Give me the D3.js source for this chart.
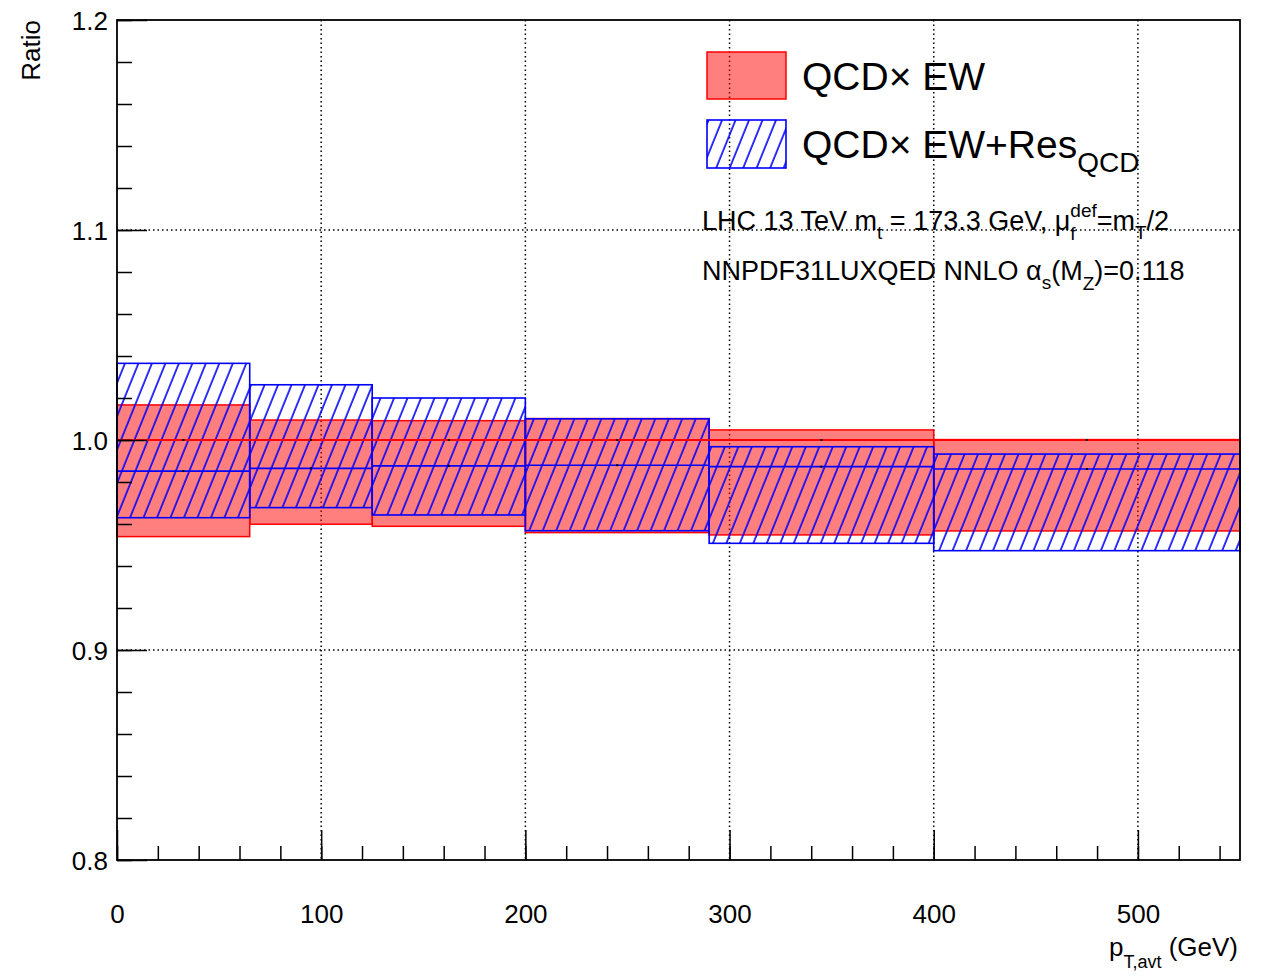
<!DOCTYPE html>
<html>
<head>
<meta charset="utf-8">
<script src="https://cdn.jsdelivr.net/npm/d3@7"></script>
<style>
  html, body { margin: 0; padding: 0; background: #fff; }
  svg { display: block; font-family: "Liberation Sans", Arial, Helvetica, sans-serif; }
  text { white-space: pre; }
</style>
</head>
<body>
<div id="chart"></div>
<script>
// Bin-Grenzen in GeV
const binEdges = [0, 65, 125, 200, 290, 400, 550];

// QCD x EW (rotes Band)
const ewCentral = [1.0, 1.0, 1.0, 1.0, 1.0, 1.0];
const ewUp      = [1.0167, 1.0095, 1.0092, 1.0102, 1.0048, 1.0002];
const ewDown    = [0.9540, 0.9599, 0.9589, 0.9559, 0.9548, 0.9567];

// QCD x EW + Res_QCD (blaues, schraffiertes Band)
const resCentral = [0.9852, 0.9865, 0.9877, 0.9880, 0.9873, 0.9862];
const resUp      = [1.0365, 1.0263, 1.0200, 1.0101, 0.9968, 0.9933];
const resDown    = [0.9630, 0.9678, 0.9643, 0.9568, 0.9508, 0.9473];

// Achsen-Ticks
const xMajorTicks = [0, 100, 200, 300, 400, 500];
const xMinorTicks = d3.range(0, 551, 20);
const yMajorTicks = [0.8, 0.9, 1.0, 1.1, 1.2];
const yMinorTicks = d3.range(0.8, 1.2001, 0.02);
const xGrid = [100, 200, 300, 400, 500];
const yGrid = [0.9, 1.0, 1.1];

const W = 1265, H = 976;
const plot = {left: 117, right: 1240, top: 20, bottom: 860};

const svg = d3.select("#chart").append("svg")
    .attr("width", W).attr("height", H);

// Schraffur-Muster
const defs = svg.append("defs");
defs.append("pattern")
    .attr("id", "hatch")
    .attr("patternUnits", "userSpaceOnUse")
    .attr("width", 12.5).attr("height", 20)
    .attr("patternTransform", "rotate(22)")
    .append("line")
    .attr("x1", 2).attr("y1", -5).attr("x2", 2).attr("y2", 25)
    .attr("stroke", "#0000ff").attr("stroke-width", 1.6);

const x = d3.scaleLinear().domain([0, 550]).range([plot.left, plot.right]);
const y = d3.scaleLinear().domain([0.8, 1.2]).range([plot.bottom, plot.top]);

// Gitterlinien
svg.append("g").selectAll("line").data(xGrid).join("line")
    .attr("x1", d => x(d)).attr("x2", d => x(d))
    .attr("y1", plot.top).attr("y2", plot.bottom)
    .attr("stroke", "#000").attr("stroke-width", 1.5)
    .attr("stroke-dasharray", "1.5,3");
svg.append("g").selectAll("line").data(yGrid).join("line")
    .attr("x1", plot.left).attr("x2", plot.right)
    .attr("y1", d => y(d)).attr("y2", d => y(d))
    .attr("stroke", "#000").attr("stroke-width", 1.5)
    .attr("stroke-dasharray", "1.5,3");

const bins = binEdges.slice(0, -1).map((lo, i) => ({
    lo, hi: binEdges[i + 1],
    ewC: ewCentral[i], ewU: ewUp[i], ewD: ewDown[i],
    resC: resCentral[i], resU: resUp[i], resD: resDown[i]
}));

// Rotes Band
svg.append("g").selectAll("rect").data(bins).join("rect")
    .attr("x", d => x(d.lo)).attr("width", d => x(d.hi) - x(d.lo))
    .attr("y", d => y(d.ewU)).attr("height", d => y(d.ewD) - y(d.ewU))
    .attr("fill", "#ff0000").attr("fill-opacity", 0.5)
    .attr("stroke", "#ff0000").attr("stroke-width", 1.5);

// Blaues schraffiertes Band
svg.append("g").selectAll("rect").data(bins).join("rect")
    .attr("x", d => x(d.lo)).attr("width", d => x(d.hi) - x(d.lo))
    .attr("y", d => y(d.resU)).attr("height", d => y(d.resD) - y(d.resU))
    .attr("fill", "url(#hatch)")
    .attr("stroke", "#0000ff").attr("stroke-width", 1.6);

// Zentrale Linien
svg.append("g").selectAll("line").data(bins).join("line")
    .attr("x1", d => x(d.lo)).attr("x2", d => x(d.hi))
    .attr("y1", d => y(d.resC)).attr("y2", d => y(d.resC))
    .attr("stroke", "#0000ff").attr("stroke-width", 1.6);
svg.append("g").selectAll("line").data(bins).join("line")
    .attr("x1", d => x(d.lo)).attr("x2", d => x(d.hi))
    .attr("y1", d => y(d.ewC)).attr("y2", d => y(d.ewC))
    .attr("stroke", "#ff0000").attr("stroke-width", 2);

// kleine Marker in der Bin-Mitte
const markers = bins.flatMap(d => [
    {xv: (d.lo + d.hi) / 2, yv: d.ewC},
    {xv: (d.lo + d.hi) / 2, yv: d.resC}
]);
svg.append("g").selectAll("rect").data(markers).join("rect")
    .attr("x", d => x(d.xv) - 1).attr("y", d => y(d.yv) - 1)
    .attr("width", 2).attr("height", 2).attr("fill", "#000");

// Achsen
const yMajor = svg.append("g")
    .attr("transform", `translate(${plot.left},0)`)
    .call(d3.axisLeft(y).tickValues(yMajorTicks).tickSize(-30).tickPadding(9)
        .tickFormat(d3.format(".1f")));
const yMinor = svg.append("g")
    .attr("transform", `translate(${plot.left},0)`)
    .call(d3.axisLeft(y).tickValues(yMinorTicks).tickSize(-15).tickFormat(""));
const xMajor = svg.append("g")
    .attr("transform", `translate(0,${plot.bottom})`)
    .call(d3.axisBottom(x).tickValues(xMajorTicks).tickSize(-30).tickPadding(45)
        .tickFormat(d3.format("d")));
const xMinor = svg.append("g")
    .attr("transform", `translate(0,${plot.bottom})`)
    .call(d3.axisBottom(x).tickValues(xMinorTicks).tickSize(-14).tickFormat(""));

[yMajor, yMinor, xMajor, xMinor].forEach(g => {
    g.select(".domain").remove();
    g.selectAll("line").attr("stroke", "#000").attr("stroke-width", 1.5);
    g.selectAll("text").attr("font-size", 26).attr("fill", "#000")
        .attr("font-family", "Liberation Sans, Arial, sans-serif");
});
yMajor.selectAll("text").attr("dy", "0.36em");

// Rahmen
svg.append("rect")
    .attr("x", plot.left).attr("y", plot.top)
    .attr("width", plot.right - plot.left).attr("height", plot.bottom - plot.top)
    .attr("fill", "none").attr("stroke", "#000").attr("stroke-width", 1.8);

// Text mit Hoch-/Tiefstellung, Stücke nacheinander setzen
function richText(x0, y0, segs, anchor) {
    const g = svg.append("g");
    let cx = 0;
    let lastStart = 0;
    segs.forEach(s => {
        const t = g.append("text")
            .attr("y", y0 + (s.dy || 0))
            .attr("font-size", s.size)
            .attr("fill", "#000")
            .text(s.t);
        const start = s.stack ? lastStart : cx;
        t.attr("x", start);
        const w = t.node().getComputedTextLength();
        lastStart = start;
        cx = Math.max(cx, start + w);
    });
    const shift = anchor === "end" ? x0 - cx : x0;
    g.attr("transform", `translate(${shift},0)`);
    return g;
}

// Achsentitel
svg.append("text")
    .attr("transform", "translate(40,20) rotate(-90)")
    .attr("text-anchor", "end")
    .attr("font-size", 26)
    .text("Ratio");

richText(1238, 956, [
    {t: "p", size: 26},
    {t: "T,avt", size: 18, dy: 12},
    {t: " (GeV)", size: 26}
], "end");

// Legende
svg.append("rect")
    .attr("x", 707).attr("y", 52).attr("width", 79).attr("height", 47)
    .attr("fill", "#ff0000").attr("fill-opacity", 0.5)
    .attr("stroke", "#ff0000").attr("stroke-width", 1.5);
svg.append("rect")
    .attr("x", 707).attr("y", 120).attr("width", 79).attr("height", 48)
    .attr("fill", "url(#hatch)")
    .attr("stroke", "#0000ff").attr("stroke-width", 1.6);

richText(802, 90, [{t: "QCD\u00d7 EW", size: 39}]);
richText(802, 158, [
    {t: "QCD\u00d7 EW+Res", size: 39},
    {t: "QCD", size: 28, dy: 14}
]);

// Beschriftung
richText(702, 230, [
    {t: "LHC 13 TeV m", size: 27},
    {t: "t", size: 19, dy: 9},
    {t: " = 173.3 GeV, \u03bc", size: 27},
    {t: "f", size: 19, dy: 10},
    {t: "def", size: 19, dy: -13, stack: true},
    {t: "=m", size: 27},
    {t: "T", size: 19, dy: 9},
    {t: "/2", size: 27}
]);
richText(702, 280, [
    {t: "NNPDF31LUXQED NNLO \u03b1", size: 27},
    {t: "s", size: 19, dy: 9},
    {t: "(M", size: 27},
    {t: "Z", size: 19, dy: 10},
    {t: ")=0.118", size: 27}
]);
</script>
</body>
</html>
